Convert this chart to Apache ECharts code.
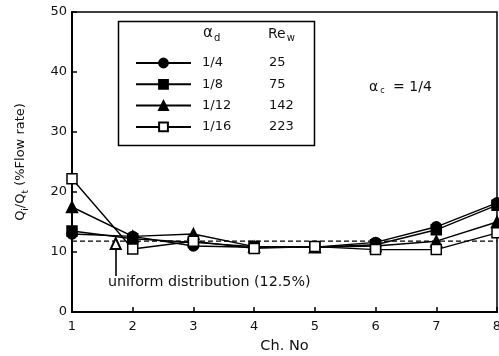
<!DOCTYPE html>
<html><head><meta charset="utf-8">
<script src="https://cdn.jsdelivr.net/npm/echarts@6/dist/echarts.min.js"></script>
<style>html,body{margin:0;padding:0;background:#fff}#c{width:499px;height:356px}</style>
</head><body><div id="c"></div>
<script>
const channels = [1, 2, 3, 4, 5, 6, 7, 8];
const alphaD = ['1/4', '1/8', '1/12', '1/16'];
const reW = [25, 75, 142, 223];
const q_1_4  = [13.0, 12.6, 11.0, 10.8, 10.8, 11.6, 14.2, 18.2];
const q_1_8  = [13.5, 12.2, 11.6, 10.9, 10.8, 11.2, 13.7, 17.8];
const q_1_12 = [17.5, 12.6, 13.0, 10.9, 10.8, 11.0, 11.8, 15.0];
const q_1_16 = [22.2, 10.5, 11.8, 10.6, 10.9, 10.4, 10.4, 13.2];
const uniformLevel = 11.8;
const arrowX = 1.72, arrowFrom = 6.0, arrowTo = 11.4;
const yTicks = [0, 10, 20, 30, 40, 50];

const FONT = '"DejaVu Sans", sans-serif';
const seriesVals = [q_1_4, q_1_8, q_1_12, q_1_16];
const symbols = ['circle', 'rect', 'triangle', 'rect'];
const fills = ['#000', '#000', '#000', '#fff'];

const series = alphaD.map((name, i) => ({
  name: name,
  type: 'line',
  clip: false,
  data: channels.map((c, j) => [c, seriesVals[i][j]]),
  symbol: symbols[i],
  symbolSize: i === 2 ? 11 : 10,
  showSymbol: true,
  lineStyle: { color: '#000', width: 1.4 },
  itemStyle: { color: fills[i], borderColor: '#000', borderWidth: 1.5 },
  z: 3 + i
}));

series.push({
  name: 'uniform',
  type: 'line',
  data: [[channels[0], uniformLevel], [channels[channels.length - 1], uniformLevel]],
  symbol: 'none',
  lineStyle: { color: '#000', width: 1.2, type: [5, 3] },
  z: 2,
  markLine: {
    silent: true,
    symbol: ['none', 'emptyTriangle'],
    symbolSize: [10, 11],
    label: { show: false },
    lineStyle: { color: '#000', width: 1.6, type: 'solid' },
    data: [[{ coord: [arrowX, arrowFrom] }, { coord: [arrowX, arrowTo] }]]
  }
});

const chart = echarts.init(document.getElementById('c'), null, { renderer: 'canvas' });
chart.setOption({
  animation: false,
  backgroundColor: '#fff',
  grid: { left: 72, right: 2, top: 12, bottom: 44, show: true, borderColor: '#000', borderWidth: 1.5,
          containLabel: false, outerBoundsMode: 'none' },
  xAxis: {
    type: 'value', min: 1, max: 8, interval: 1,
    name: 'Ch. No', nameLocation: 'middle', nameGap: 27,
    nameTextStyle: { fontFamily: FONT, fontSize: 14.5, color: '#111' },
    axisLine: { lineStyle: { color: '#000', width: 2 } },
    axisTick: { inside: true, length: 5, lineStyle: { color: '#000', width: 1.5 } },
    axisLabel: { fontFamily: FONT, fontSize: 13, color: '#111', margin: 8 },
    splitLine: { show: false }
  },
  yAxis: {
    type: 'value', min: yTicks[0], max: yTicks[yTicks.length - 1], interval: 10,
    name: '{q|Q}{s|i}{q|/Q}{s|t}{q| (%Flow rate)}', nameLocation: 'middle', nameGap: 42,
    nameTextStyle: {
      fontFamily: FONT, fontSize: 13, color: '#111',
      rich: {
        q: { fontFamily: FONT, fontSize: 13, color: '#111' },
        s: { fontFamily: FONT, fontSize: 9, color: '#111', padding: [9, 0, 0, 0] }
      }
    },
    axisLine: { lineStyle: { color: '#000', width: 2 } },
    axisTick: { inside: true, length: 5, lineStyle: { color: '#000', width: 1.5 } },
    axisLabel: { fontFamily: FONT, fontSize: 13, color: '#111', margin: 5 },
    splitLine: { show: false }
  },
  legend: {
    data: alphaD,
    orient: 'vertical',
    left: 130, top: 51.5,
    itemWidth: 55, itemHeight: 11, itemGap: 8.3,
    selectedMode: false,
    textStyle: {
      fontFamily: FONT, fontSize: 13, color: '#111',
      rich: {
        a: { fontFamily: FONT, fontSize: 13, color: '#111', width: 67, padding: [0, 0, 0, 6] },
        b: { fontFamily: FONT, fontSize: 13, color: '#111' }
      }
    },
    formatter: n => '{a|' + n + '}{b|' + reW[alphaD.indexOf(n)] + '}'
  },
  graphic: [
    { type: 'rect', left: 116, top: 19, shape: { width: 196, height: 124 },
      style: { fill: 'none', stroke: '#000', lineWidth: 1.5 }, z: 10 },
    { type: 'text', left: 203, top: 26, style: {
        text: '{a|α}{s|d}', rich: { a: { fontFamily: FONT, fontSize: 15, fill: '#111' },
        s: { fontFamily: FONT, fontSize: 10, fill: '#111', padding: [9, 0, 0, 1] } } }, z: 10 },
    { type: 'text', left: 268, top: 27, style: {
        text: '{a|Re}{s|w}', rich: { a: { fontFamily: FONT, fontSize: 14, fill: '#111' },
        s: { fontFamily: FONT, fontSize: 10, fill: '#111', padding: [9, 0, 0, 1] } } }, z: 10 },
    { type: 'text', left: 369, top: 80, style: {
        text: '{a|α}{s|c}{a| = 1/4}', rich: { a: { fontFamily: FONT, fontSize: 14, fill: '#111' },
        s: { fontFamily: FONT, fontSize: 8, fill: '#111', padding: [8, 4, 0, 2] } } }, z: 10 },
    { type: 'text', left: 108, top: 275, style: {
        text: 'uniform distribution (12.5%)', fontFamily: FONT, fontSize: 14.3, fill: '#111' }, z: 10 }
  ],
  series: series
});
</script>
</body></html>
